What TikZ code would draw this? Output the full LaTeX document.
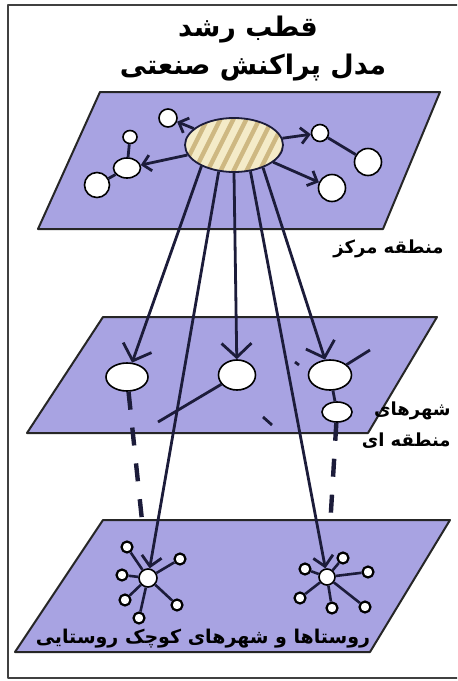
\documentclass[tikz,border=0pt]{standalone}
\usepackage{fontspec}
\usetikzlibrary{arrows.meta,shapes.geometric}
\TeXXeTstate=1
\newfontfamily\fafont[Script=Arabic]{DejaVu Sans}
\definecolor{kPlane}{RGB}{168,163,226}
\definecolor{kHub}{RGB}{244,235,200}
\definecolor{kStripe}{RGB}{206,184,130}
\definecolor{kLine}{RGB}{28,28,58}
\newcommand{\fa}[1]{{\fafont\bfseries\beginR #1\endR}}

\begin{document}
\begin{tikzpicture}[x=0.5pt, y=-0.5pt, line join=round,
    plane/.style={fill=kPlane, draw=black!85, line width=1pt},
    hub/.style={ellipse, draw=kLine, line width=0.9pt, fill=kHub, inner sep=0pt,
      minimum width=49pt, minimum height=27pt,
      path picture={\foreach \k in {-6,...,6}
        \draw[kStripe, line width=2.2pt] ([xshift=\k*6.5pt-7pt]path picture bounding box.south) -- ++(14pt,28pt);}},
    town/.style={ellipse, draw=black, fill=white, line width=0.8pt, inner sep=0pt},
    village/.style={circle, draw=black, fill=white, line width=1.1pt, inner sep=0pt, minimum size=5.5pt},
    link/.style={draw=kLine, line width=1.4pt},
    nearlink/.style={link, -{Straight Barb[length=4pt,width=8pt]}},
    farlink/.style={link, -{Straight Barb[length=7pt,width=15pt]}},
    downlink/.style={link, -{Straight Barb[length=5pt,width=10pt]}},
    spoke/.style={draw=kLine, line width=1.3pt},
    tie/.style={draw=kLine, line width=2.2pt, dash pattern=on 9pt off 9pt},
    caption/.style={inner sep=1pt, font=\fontsize{9}{11}\selectfont}]
  \useasboundingbox (0,0) rectangle (457,681);
  \clip (0,0) rectangle (457,681);
  \fill[white] (0,0) rectangle (457,681);
  \draw[black!75, line width=1.3pt] (8,5) rectangle (470,678);

  % titles
  \node[font=\fontsize{13.5}{16}\selectfont] (ttl1) at (248,30) {\fa{قطب رشد}};
  \node[font=\fontsize{13.5}{16}\selectfont] (ttl2) at (253,68) {\fa{مدل پراکنش صنعتی}};

  % the three planes
  \draw[plane] (100,92) -- (440,92) -- (383,229) -- (38,229) -- cycle;
  \draw[plane] (103,317) -- (437,317) -- (368,433) -- (27,433) -- cycle;
  \draw[plane] (103,520) -- (450,520) -- (370,652) -- (15,652) -- cycle;

  % core region
  \node[hub] (hub) at (234,145) {};
  \node[town, minimum width=9pt, minimum height=9pt] (ta) at (168,118) {};
  \node[town, minimum width=7pt, minimum height=6.5pt] (tb) at (130,137) {};
  \node[town, minimum width=13.5pt, minimum height=10pt] (tc) at (127,168) {};
  \node[town, minimum width=12.5pt, minimum height=12.5pt] (td) at (97,185) {};
  \node[town, minimum width=8.5pt, minimum height=8.5pt] (te) at (320,133) {};
  \node[town, minimum width=13.5pt, minimum height=13.5pt] (tf) at (368,162) {};
  \node[town, minimum width=13.5pt, minimum height=13.5pt] (tg) at (332,188) {};
  \draw[nearlink] (hub) -- (ta);
  \draw[nearlink] (hub) -- (tc);
  \draw[nearlink] (hub) -- (te);
  \draw[nearlink] (hub) -- (tg);
  \draw[link] (te) -- (tf);
  \draw[link] (tb) -- (tc);
  \draw[link] (tc) -- (td);

  % regional cities
  \node[town, minimum width=21pt, minimum height=14pt] (ml) at (127,377) {};
  \node[town, minimum width=18.5pt, minimum height=15pt] (mm) at (237,375) {};
  \node[town, minimum width=21.5pt, minimum height=15pt] (mr) at (330,375) {};
  \node[town, minimum width=15pt, minimum height=10pt] (ms) at (337,412) {};
  \coordinate (mtail) at (158,422);
  \coordinate (rtail) at (370,350);
  \coordinate (dash1) at (263,417);
  \coordinate (dash2) at (272,425);
  \coordinate (dot1) at (295,362);
  \coordinate (dot2) at (299,365);
  \draw[link] (mm) -- (mtail);
  \draw[link] (mr) -- (rtail);
  \draw[link] (dash1) -- (dash2);
  \draw[link] (dot1) -- (dot2);
  \draw[link] (mr) -- (ms);

  % rural centres
  \node[town, minimum width=9pt, minimum height=9pt] (ls) at (148,578) {};
  \node[town, minimum width=8pt, minimum height=8pt] (rs) at (327,577) {};
  \foreach \p [count=\i] in {(127,547),(180,559),(122,575),(125,600),(177,605),(139,618)}
    \node[village] (lv\i) at \p {};
  \foreach \p [count=\i] in {(305,569),(343,558),(368,572),(300,598),(332,608),(365,607)}
    \node[village] (rv\i) at \p {};
  \foreach \i in {1,...,6} {
    \draw[spoke] (ls) -- (lv\i);
    \draw[spoke] (rs) -- (rv\i);
  }

  % links from the growth pole
  \draw[farlink] (hub.213) -- (ml);
  \draw[downlink] (hub.240) -- (ls);
  \draw[farlink] (hub.270) -- (mm);
  \draw[downlink] (hub.302) -- (rs);
  \draw[farlink] (hub.322) -- (mr);
  \draw[tie, shorten >=24pt] (ml) -- (ls);
  \draw[tie, shorten >=26pt] (ms) -- (rs);

  % captions
  \node[caption, anchor=east] (lcore) at (446,249) {\fa{منطقه مرکز}};
  \node[caption, anchor=east] (lreg1) at (453,411) {\fa{شهرهای}};
  \node[caption, anchor=east] (lreg2) at (453,441) {\fa{منطقه ای}};
  \node[caption, font=\fontsize{9.5}{12}\selectfont] (lrur) at (203,639) {\fa{روستاها و شهرهای کوچک روستایی}};
\end{tikzpicture}
\end{document}
